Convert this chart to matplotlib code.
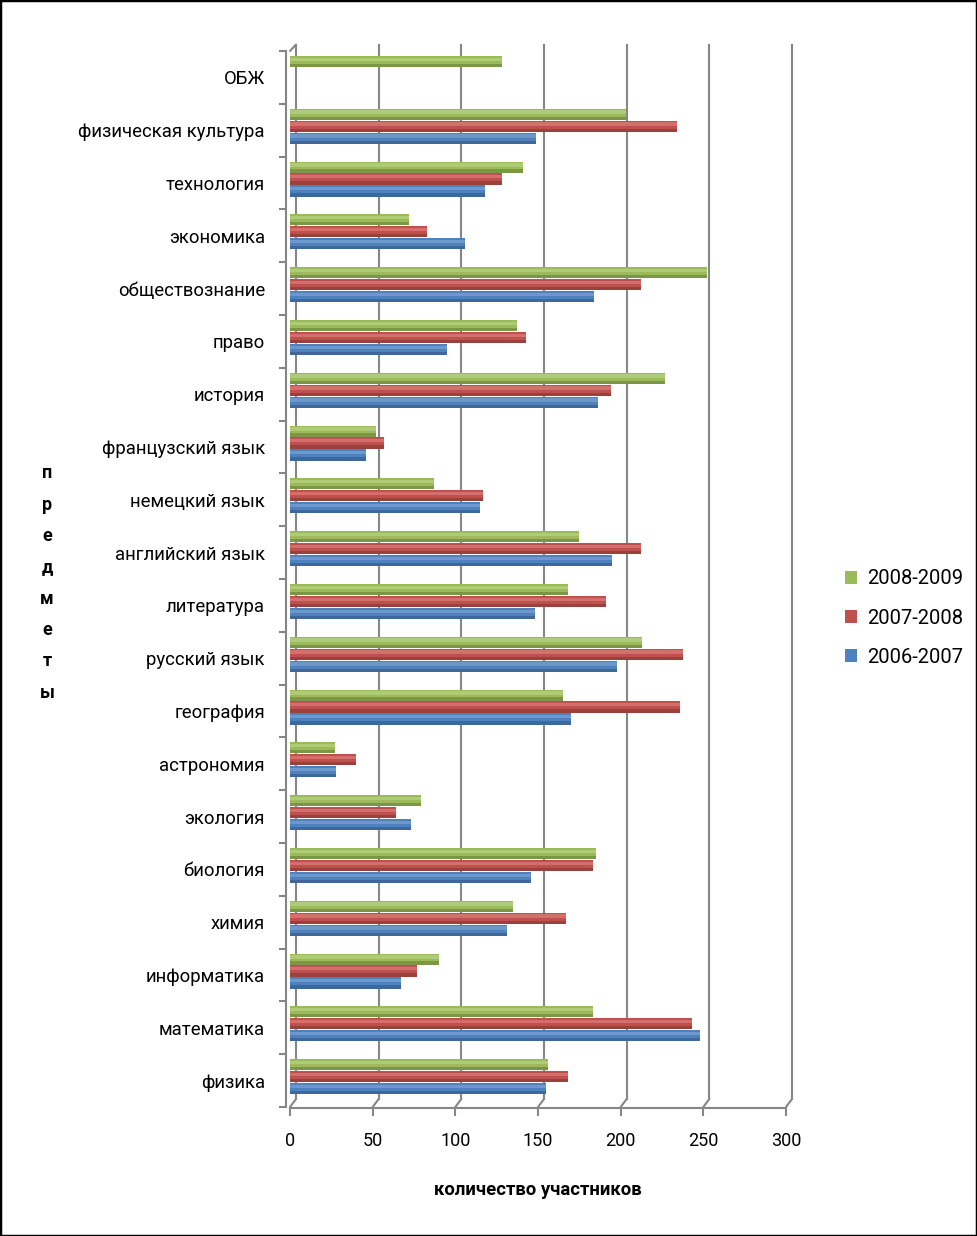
import numpy as np
import matplotlib
matplotlib.use("Agg")
from matplotlib import pyplot as plt
from matplotlib.patches import ConnectionPatch
from matplotlib.transforms import ScaledTranslation

plt.rcParams['font.family'] = ['Roboto', 'DejaVu Sans']

subjects = ["физика", "математика", "информатика", "химия", "биология",
            "экология", "астрономия", "география", "русский язык", "литература",
            "английский язык", "немецкий язык", "французский язык", "история",
            "право", "обществознание", "экономика", "технология",
            "физическая культура", "ОБЖ"]
y2006 = [155, 248, 67, 131, 146, 73, 28, 170, 198, 148,
         195, 115, 46, 186, 95, 184, 106, 118, 149, 0]
y2007 = [168, 243, 77, 167, 183, 64, 40, 236, 238, 191,
         212, 117, 57, 194, 143, 212, 83, 128, 234, 0]
y2008 = [156, 183, 90, 135, 185, 79, 27, 165, 213, 168,
         175, 87, 52, 227, 137, 252, 72, 141, 203, 128]
series_names = ["2006-2007", "2007-2008", "2008-2009"]
xticks = [0, 50, 100, 150, 200, 250, 300]

colors = ["#4F81BD", "#C0504D", "#9BBB59"]
dark = ["#3F6797", "#9A403D", "#7C9647"]
light = ["#6E97CC", "#D46F6C", "#AECB77"]

fig = plt.figure(figsize=(9.77, 12.36), dpi=100)
ax = fig.add_axes([290 / 977, 129 / 1236, 496 / 977, 1056 / 1236])

pos = np.arange(len(subjects))
h = 0.21
step = 0.227
base = 0.075
for k, vals in enumerate([y2006, y2007, y2008]):
    yy = pos + base + (k - 1) * step
    v = np.array(vals)
    ax.barh(yy, v, height=h, color=colors[k], linewidth=0, zorder=3)
    ax.barh(yy - h * 0.36, v, height=h * 0.28, color=dark[k], linewidth=0, zorder=4)
    ax.barh(yy + h * 0.2, v, height=h * 0.3, color=light[k], linewidth=0, zorder=4)
    ax.barh([-10], [0], color=colors[k], label=series_names[k])

ax.set_xlim(0, 300)
ax.set_ylim(-0.5, len(subjects) - 0.5)
ax.set_xticks(xticks, [str(t) for t in xticks])
ax.set_yticks(pos, subjects)
ax.set_yticks(np.arange(-0.5, len(subjects), 1), minor=True)
ax.tick_params(axis='y', which='major', length=0, pad=15, labelsize=13.3)
ax.tick_params(axis='y', which='minor', length=5, color="#868686", width=1.5)
ax.tick_params(axis='x', length=6, color="#868686", width=1.5, pad=11,
               labelsize=13)

for s in ['top', 'right']:
    ax.spines[s].set_visible(False)
for s in ['left', 'bottom']:
    ax.spines[s].set_color("#868686")
    ax.spines[s].set_linewidth(1.5)
ax.spines['left'].set_position(('outward', 3))
ax.spines['bottom'].set_position(('outward', 1))

# back wall gridlines (3D look)
back = ax.transData + ScaledTranslation(0.06, 0.08, fig.dpi_scale_trans)
y0, y1 = ax.get_ylim()
for t in xticks:
    ax.plot([t, t], [y0, y1 - 0.03], color="#868686", lw=1.5, transform=back,
            zorder=1, clip_on=False)
    con = ConnectionPatch(xyA=(t, y0), coordsA=ax.transData,
                          xyB=(t, y0), coordsB=back,
                          color="#868686", lw=1.5)
    fig.add_artist(con)
con = ConnectionPatch(xyA=(0, y1), coordsA=ax.transData,
                      xyB=(0, y1 - 0.03), coordsB=back, color="#868686", lw=1.5)
fig.add_artist(con)

ax.set_xlabel("количество участников", fontsize=13.3, fontweight='bold', labelpad=22)
fig.text(47 / 977, 1 - 583 / 1236, "\n".join("предметы"), fontsize=13,
         fontweight='bold', ha='center', va='center', linespacing=1.95)

ax.legend(loc='center left', bbox_to_anchor=(827 / 977, 1 - 618 / 1236),
          bbox_transform=fig.transFigure, frameon=False, fontsize=14.5,
          handlelength=0.6, handleheight=0.6, handletextpad=0.5,
          labelspacing=1.0, reverse=True)

fig.patches.append(plt.Rectangle((0, 0), 1, 1, transform=fig.transFigure,
                                 fill=False, edgecolor="black", lw=2.5))

fig.savefig("out.png", dpi=100)
